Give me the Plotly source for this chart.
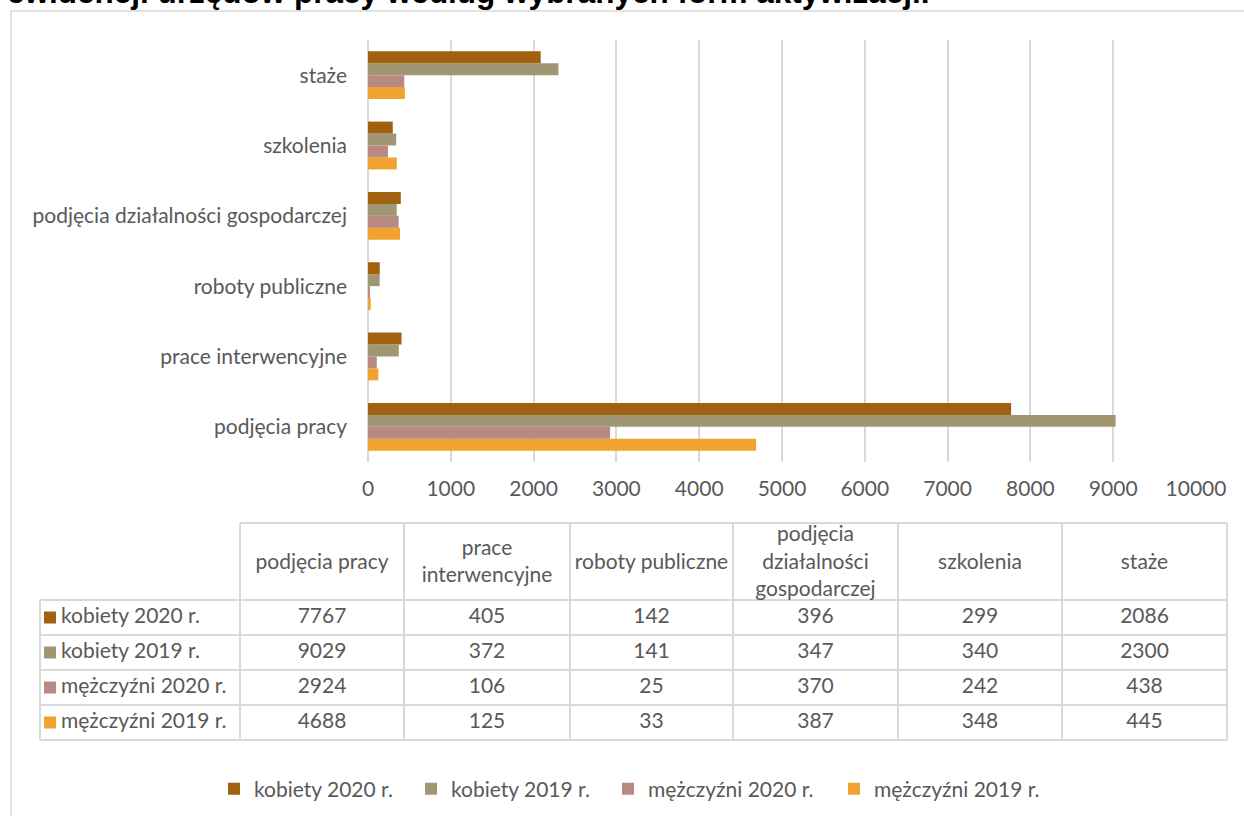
import plotly.graph_objects as go

W, H = 1244, 816

categories = ["podjęcia pracy", "prace interwencyjne", "roboty publiczne",
              "podjęcia działalności gospodarczej", "szkolenia", "staże"]
header_labels = ["podjęcia pracy", "prace<br>interwencyjne", "roboty publiczne",
                 "podjęcia<br>działalności<br>gospodarczej", "szkolenia", "staże"]

series_names = ["kobiety 2020 r.", "kobiety 2019 r.", "mężczyźni 2020 r.", "mężczyźni 2019 r."]
kobiety_2020 = [7767, 405, 142, 396, 299, 2086]
kobiety_2019 = [9029, 372, 141, 347, 340, 2300]
mezczyzni_2020 = [2924, 106, 25, 370, 242, 438]
mezczyzni_2019 = [4688, 125, 33, 387, 348, 445]
series_values = [kobiety_2020, kobiety_2019, mezczyzni_2020, mezczyzni_2019]
colors = ["#A0620E", "#A19674", "#B88A80", "#F0A330"]

x_ticks = list(range(0, 10001, 1000))

title_text = "ewidencji urzędów pracy według wybranych form aktywizacji."

FONT = "Lato"
TXT = "#595959"
GRID = "#d9d9d9"
FS = 21

# table geometry (in table-axis units == pixels)
col_widths = [200, 164, 166, 163, 165, 164, 165]
header_h = 77
row_h = 35
legend_text_x = [254, 451, 648, 874]  # where each legend entry text starts (px)

fig = go.Figure()

# ---- bars: add in reverse so that "kobiety 2020 r." sits at the top of each group
legend_ids = ["legend", "legend2", "legend3", "legend4"]
for name, vals, col, lg in reversed(list(zip(series_names, series_values, colors, legend_ids))):
    fig.add_trace(go.Bar(
        y=categories, x=vals, name=name, orientation="h",
        marker=dict(color=col, line=dict(width=0)),
        hoverinfo="skip", legend=lg,
    ))

# ---- data table drawn on its own (hidden) axes
bounds = [0]
for w in col_widths:
    bounds.append(bounds[-1] + w)
total_w = bounds[-1]
total_h = header_h + row_h * len(series_names)
row_bounds = [header_h + row_h * k for k in range(len(series_names) + 1)]

lx, ly = [], []
# header top (not over the first column)
lx += [bounds[1], total_w, None]; ly += [0, 0, None]
for yb in row_bounds:
    lx += [0, total_w, None]; ly += [yb, yb, None]
lx += [0, 0, None]; ly += [header_h, total_h, None]
for xb in bounds[1:]:
    lx += [xb, xb, None]; ly += [0, total_h, None]

fig.add_trace(go.Scatter(
    x=lx, y=ly, mode="lines", line=dict(color=GRID, width=2),
    xaxis="x2", yaxis="y2", hoverinfo="skip", showlegend=False,
))

centers = [(bounds[i] + bounds[i + 1]) / 2 for i in range(len(col_widths))]
row_centers = [header_h + row_h * (k + 0.5) for k in range(len(series_names))]

# header labels
fig.add_trace(go.Scatter(
    x=centers[1:], y=[header_h / 2 + 2] * len(header_labels), text=header_labels,
    mode="text", textposition="middle center",
    textfont=dict(family=FONT, size=FS, color=TXT),
    xaxis="x2", yaxis="y2", hoverinfo="skip", showlegend=False,
))

# values
vx, vy, vt = [], [], []
for s, vals in enumerate(series_values):
    for i, v in enumerate(vals):
        vx.append(centers[i + 1]); vy.append(row_centers[s]); vt.append(str(v))
fig.add_trace(go.Scatter(
    x=vx, y=vy, text=vt, mode="text", textposition="middle center",
    textfont=dict(family=FONT, size=FS, color=TXT),
    xaxis="x2", yaxis="y2", hoverinfo="skip", showlegend=False,
))

# row labels with colour keys
fig.add_trace(go.Scatter(
    x=[10] * 4, y=row_centers, mode="markers",
    marker=dict(symbol="square", size=12, color=colors, line=dict(width=0)),
    xaxis="x2", yaxis="y2", hoverinfo="skip", showlegend=False,
))
fig.add_trace(go.Scatter(
    x=[21] * 4, y=row_centers, text=series_names, mode="text", textposition="middle right",
    textfont=dict(family=FONT, size=FS, color=TXT),
    xaxis="x2", yaxis="y2", hoverinfo="skip", showlegend=False,
))

pad = 3
tab_left, tab_top = 40, 523

legends = {}
for k, (lg, tx) in enumerate(zip(legend_ids, legend_text_x)):
    legends[lg] = dict(
        orientation="h", xref="paper", yref="paper",
        x=(tx - 40) / W, xanchor="left", y=(H - 789) / H, yanchor="middle",
        font=dict(family=FONT, size=FS, color=TXT),
        bgcolor="rgba(0,0,0,0)", borderwidth=0,
    )

fig.update_layout(
    width=W, height=H,
    margin=dict(l=0, r=0, t=0, b=0, pad=0, autoexpand=False),
    paper_bgcolor="white", plot_bgcolor="white",
    font=dict(family=FONT, size=FS, color=TXT),
    barmode="group", bargap=0.32, bargroupgap=0,
    showlegend=True,
    **legends,
    xaxis=dict(
        domain=[368 / W, 1196 / W],
        range=[0, 10000], tickvals=x_ticks, ticktext=[str(t) for t in x_ticks],
        showgrid=True, gridcolor=GRID, gridwidth=1.5,
        zeroline=True, zerolinecolor=GRID, zerolinewidth=1.5,
        showline=False, ticks="", ticklabelstandoff=12,
        tickfont=dict(family=FONT, size=FS, color=TXT),
        fixedrange=True,
    ),
    yaxis=dict(
        domain=[1 - 462 / H, 1 - 40 / H],
        categoryorder="array", categoryarray=categories,
        showgrid=False, showline=False, zeroline=False, ticks="",
        ticklabelstandoff=20,
        tickfont=dict(family=FONT, size=FS, color=TXT),
        fixedrange=True,
    ),
    xaxis2=dict(
        domain=[(tab_left - pad) / W, (tab_left + total_w + pad) / W],
        range=[-pad, total_w + pad], visible=False, fixedrange=True, anchor="y2",
    ),
    yaxis2=dict(
        domain=[1 - (tab_top + total_h + pad) / H, 1 - (tab_top - pad) / H],
        range=[total_h + pad, -pad], visible=False, fixedrange=True, anchor="x2",
    ),
    shapes=[dict(
        type="rect", xref="paper", yref="paper",
        x0=11 / W, x1=1.02, y0=-0.02, y1=1 - 11 / H,
        line=dict(color=GRID, width=1.5), fillcolor="rgba(0,0,0,0)", layer="below",
    )],
    annotations=[dict(
        text="<b>" + title_text + "</b>", xref="paper", yref="paper",
        x=5 / W, xanchor="left", y=1 + 8 / H, yanchor="middle",
        showarrow=False,
        font=dict(family="Liberation Sans", size=31.5, color="black"),
    )],
)

fig.write_html("out.html", config={"displayModeBar": False},
               post_script="document.body.style.margin='0';document.body.style.overflow='hidden';")
